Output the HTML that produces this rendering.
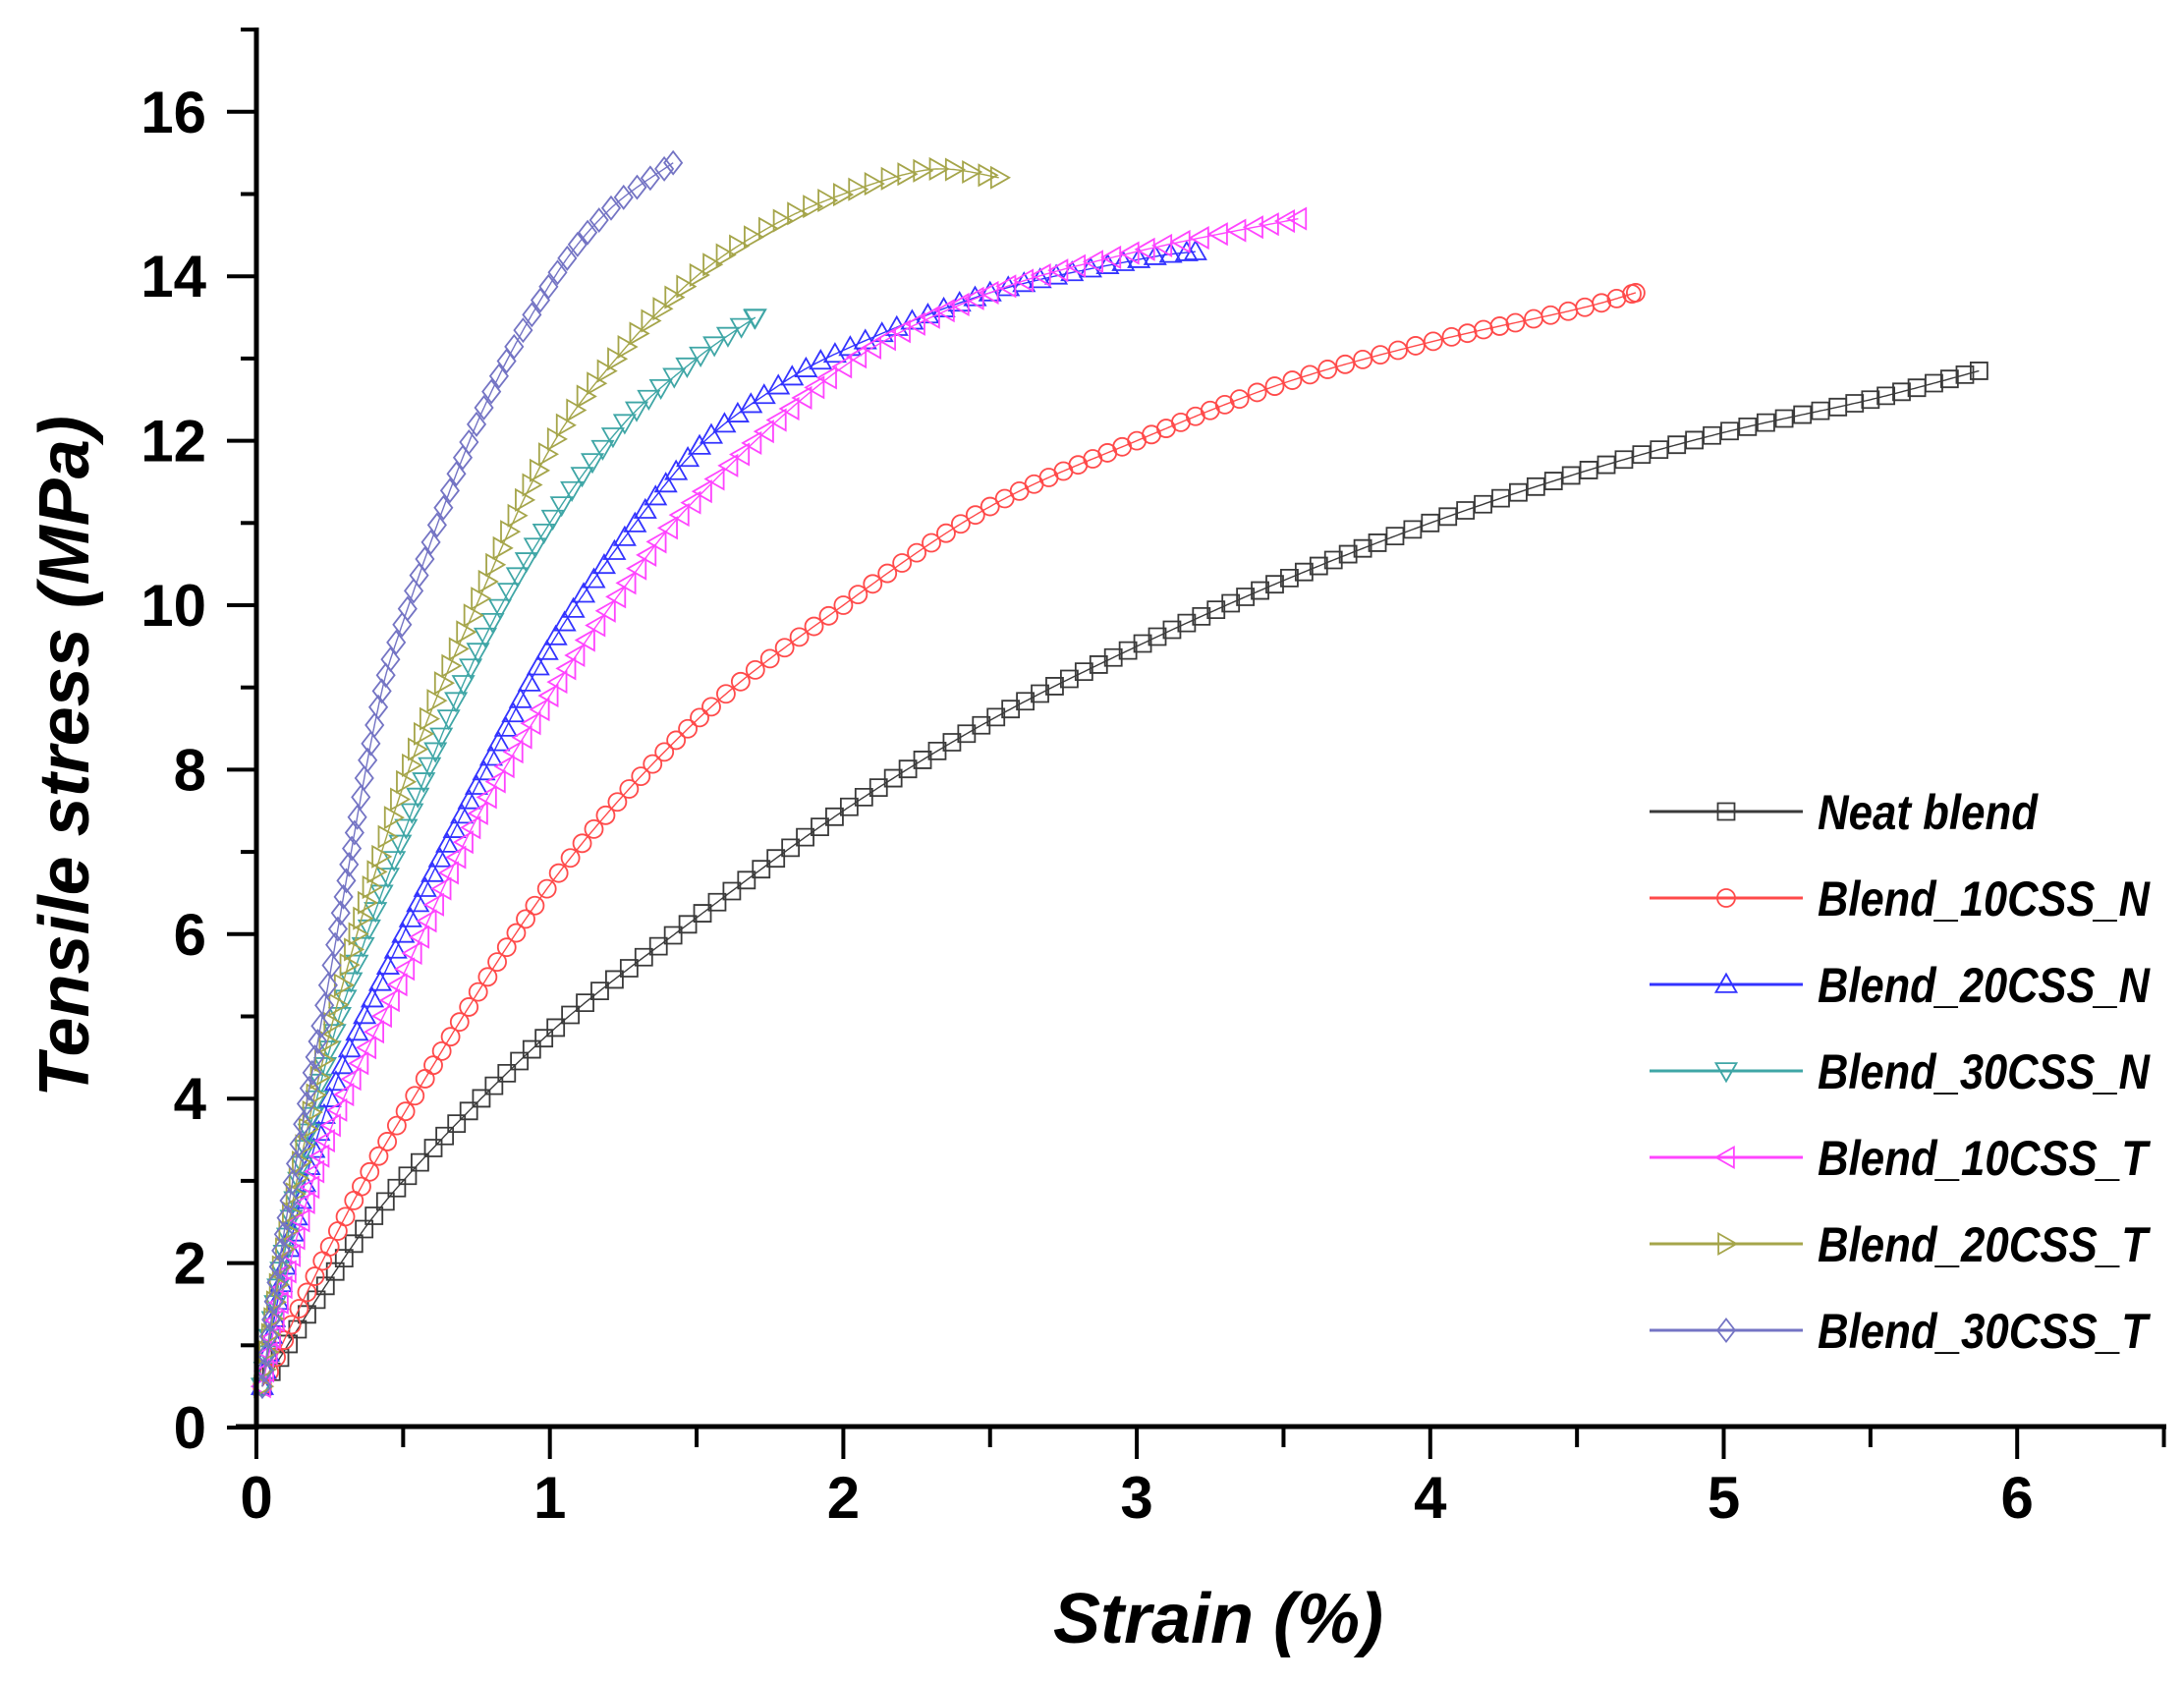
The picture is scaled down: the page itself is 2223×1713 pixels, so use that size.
<!DOCTYPE html>
<html><head><meta charset="utf-8"><style>
html,body{margin:0;padding:0;background:#fff;}
svg{display:block;}
text{font-family:"Liberation Sans",Arial,sans-serif;font-weight:bold;fill:#000;}
</style></head><body>
<svg id="s" width="2223" height="1713" viewBox="0 0 2223 1713" xmlns="http://www.w3.org/2000/svg">
<g id="plot"></g>
<g stroke="#000" stroke-width="5" fill="none">
<line x1="261" y1="28" x2="261" y2="1455"/>
<line x1="240" y1="1452" x2="2205" y2="1452"/>
</g>
<g id="ticks" stroke="#000" stroke-width="4"></g>
<g font-size="60" text-anchor="end" id="ylab"></g>
<g font-size="60" text-anchor="middle" id="xlab"></g>
<text x="1240" y="1672" font-size="72" font-style="italic" text-anchor="middle">Strain (%)</text>
<text transform="translate(90,770) rotate(-90)" font-size="72" font-style="italic" text-anchor="middle">Tensile stress (MPa)</text>
<g id="legend" font-size="50" font-style="italic"></g>
</svg>
<script>
var NS="http://www.w3.org/2000/svg";
function X(v){return 261+v*298.7;}
function Y(v){return 1453-v*83.7;}
function el(t,a,p){var e=document.createElementNS(NS,t);for(var k in a)e.setAttribute(k,a[k]);p.appendChild(e);return e;}
var T=document.getElementById('ticks');
for(var i=0;i<=16;i++){var y=Y(i);var L=(i%2==0)?30:16;el('line',{x1:261-L,y1:y,x2:261,y2:y},T);}
el('line',{x1:261-16,y1:Y(17),x2:261,y2:Y(17)},T);
for(var i=0;i<=13;i++){var x=X(i*0.5);var L=(i%2==0)?33:21;el('line',{x1:x,y1:1452,x2:x,y2:1452+L},T);}
var yl=document.getElementById('ylab');
for(var i=0;i<=16;i+=2){var t=el('text',{x:210,y:Y(i)+21},yl);t.textContent=i;}
var xl=document.getElementById('xlab');
for(var i=0;i<=6;i++){var t=el('text',{x:X(i),y:1545},xl);t.textContent=i;}
var S=[
["Neat blend","#3a3a3a","sq",[[0.02,0.5],[0.25,1.8],[0.5,3],[1,4.8],[1.5,6.2],[2,7.5],[2.5,8.6],[3,9.5],[3.5,10.3],[4,11],[4.5,11.6],[5,12.1],[5.5,12.5],[5.87,12.85]],224],
["Blend_10CSS_N","#ff4a4a","ci",[[0.02,0.5],[0.25,2.2],[0.5,3.8],[1,6.6],[1.5,8.6],[2,10],[2.5,11.2],[3,12],[3.5,12.7],[4,13.2],[4.5,13.6],[4.7,13.8]],338],
["Blend_20CSS_N","#3333ff","up",[[0.02,0.5],[0.1,2],[0.25,4],[0.5,6],[0.75,7.8],[1,9.5],[1.25,10.8],[1.5,11.9],[1.75,12.6],[2,13.1],[2.5,13.8],[3,14.2],[3.2,14.3]],338],
["Blend_30CSS_N","#3fa6a6","dn",[[0.02,0.5],[0.1,2.2],[0.25,4.6],[0.5,7.2],[0.75,9.4],[1,11],[1.25,12.2],[1.5,13],[1.7,13.5]],338],
["Blend_10CSS_T","#ff44ff","lt",[[0.02,0.5],[0.1,1.8],[0.25,3.6],[0.5,5.5],[0.75,7.4],[1,8.9],[1.25,10.2],[1.5,11.3],[2,12.9],[2.5,13.8],[3,14.3],[3.55,14.7]],336],
["Blend_20CSS_T","#a5a54a","rt",[[0.02,0.5],[0.1,2.3],[0.25,4.8],[0.5,7.8],[0.75,10],[1,11.9],[1.25,13.1],[1.5,14],[1.75,14.6],[2,15],[2.3,15.3],[2.53,15.2]],336],
["Blend_30CSS_T","#7474c4","di",[[0.02,0.5],[0.1,2.5],[0.25,5.5],[0.4,8.5],[0.5,9.8],[0.75,12.2],[1,13.9],[1.2,14.8],[1.42,15.38]],336]
];
var r=10.5;
function marker(type,x,y,c,g){
 var a={fill:"none",stroke:c,"stroke-width":1.8};
 var p;
 if(type=="sq")p="M"+(x-r+2)+","+(y-r+2)+"h"+(2*r-4)+"v"+(2*r-4)+"h"+(-2*r+4)+"z";
 else if(type=="ci"){a.cx=x;a.cy=y;a.r=r-1.5;el('circle',a,g);return;}
 else if(type=="up")p="M"+x+","+(y-r)+"L"+(x+r)+","+(y+r*0.75)+"L"+(x-r)+","+(y+r*0.75)+"z";
 else if(type=="dn")p="M"+x+","+(y+r)+"L"+(x+r)+","+(y-r*0.75)+"L"+(x-r)+","+(y-r*0.75)+"z";
 else if(type=="lt")p="M"+(x-r)+","+y+"L"+(x+r*0.75)+","+(y-r)+"L"+(x+r*0.75)+","+(y+r)+"z";
 else if(type=="rt")p="M"+(x+r)+","+y+"L"+(x-r*0.75)+","+(y-r)+"L"+(x-r*0.75)+","+(y+r)+"z";
 else if(type=="di")p="M"+x+","+(y-r-1)+"L"+(x+r*0.85)+","+y+"L"+x+","+(y+r+1)+"L"+(x-r*0.85)+","+y+"z";
 a.d=p;el('path',a,g);
}
function cr(P){
 var pts=P.map(function(p){return [X(p[0]),Y(p[1])];});var out=[];
 for(var i=0;i<pts.length-1;i++){
  var p0=pts[Math.max(0,i-1)],p1=pts[i],p2=pts[i+1],p3=pts[Math.min(pts.length-1,i+2)];
  for(var t=0;t<1;t+=0.02){var t2=t*t,t3=t2*t;
   out.push([0.5*((2*p1[0])+(-p0[0]+p2[0])*t+(2*p0[0]-5*p1[0]+4*p2[0]-p3[0])*t2+(-p0[0]+3*p1[0]-3*p2[0]+p3[0])*t3),
             0.5*((2*p1[1])+(-p0[1]+p2[1])*t+(2*p0[1]-5*p1[1]+4*p2[1]-p3[1])*t2+(-p0[1]+3*p1[1]-3*p2[1]+p3[1])*t3)]);}
 }
 out.push(pts[pts.length-1]);return out;
}
var G=document.getElementById('plot');
S.forEach(function(s){
 var pts=cr(s[3]);
 el('polyline',{points:pts.map(function(p){return p[0].toFixed(1)+","+p[1].toFixed(1);}).join(" "),fill:"none",stroke:s[1],"stroke-width":1.4},G);
 var acc=0;marker(s[2],pts[0][0],pts[0][1],s[1],G);
 for(var i=1;i<pts.length;i++){var dx=pts[i][0]-pts[i-1][0],dy=pts[i][1]-pts[i-1][1];acc+=Math.sqrt(dx*dx+dy*dy);
  if(acc>=16){marker(s[2],pts[i][0],pts[i][1],s[1],G);acc=0;}}
 var e=pts[pts.length-1];marker(s[2],e[0],e[1],s[1],G);
});
var LG=document.getElementById('legend');
var ly=[826,914,1002,1090,1178,1266,1354];
S.forEach(function(s,i){
 el('line',{x1:1679,y1:ly[i],x2:1835,y2:ly[i],stroke:s[1],"stroke-width":3},LG);
 marker(s[2],1757,ly[i],s[1],LG);
 var t=el('text',{x:1850,y:ly[i]+18,textLength:s[4],lengthAdjust:"spacingAndGlyphs"},LG);t.textContent=s[0];
});
</script>
</body></html>
